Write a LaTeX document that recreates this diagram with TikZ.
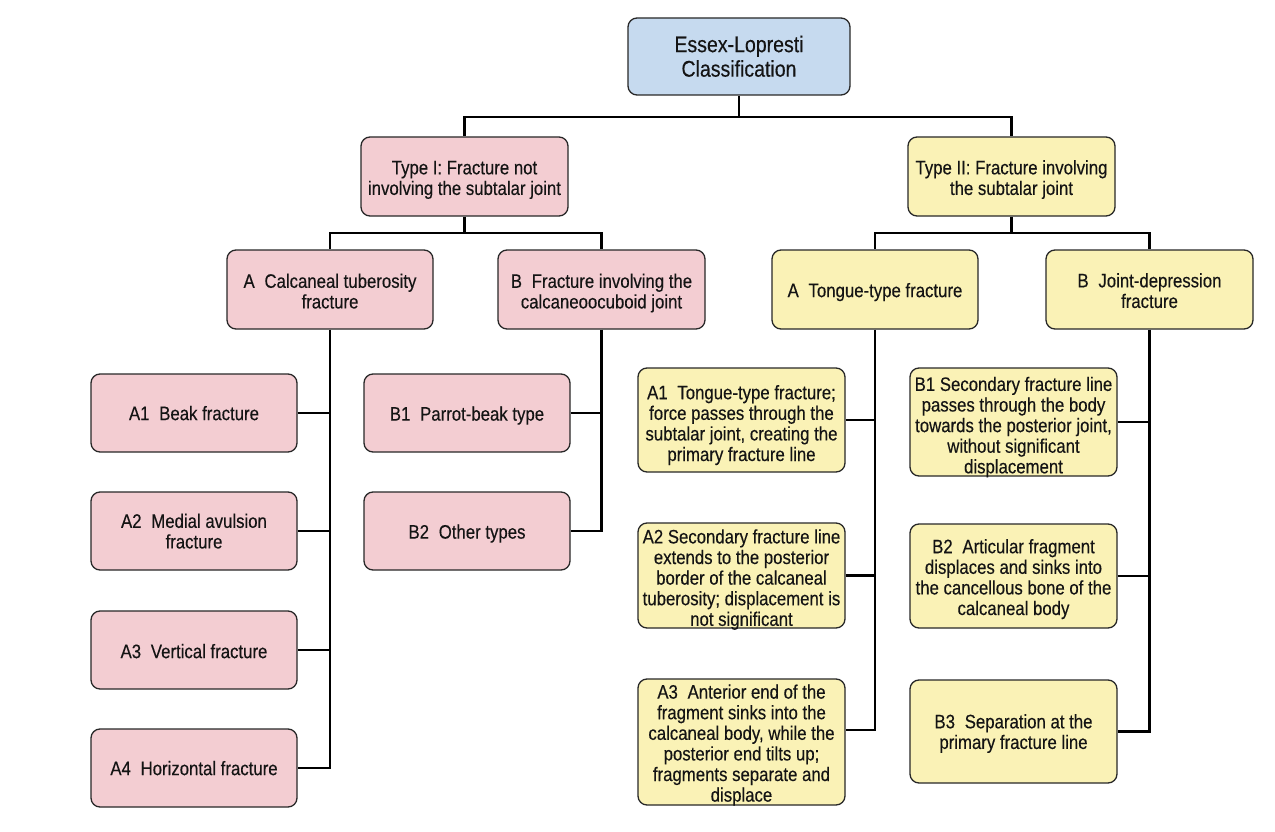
\documentclass[tikz,border=0pt]{standalone}
\usepackage{fontspec}
\setmainfont{Liberation Sans}[FakeStretch=0.86,FakeBold=0.3]
\definecolor{pinkfill}{RGB}{243,205,210}
\definecolor{yellowfill}{RGB}{250,242,182}
\definecolor{bluefill}{RGB}{198,218,239}
\definecolor{boxline}{RGB}{40,40,40}
\newcommand{\tl}[2]{\raisebox{-#1pt}[\height][\depth]{\begin{tabular}{@{}c@{}}#2\end{tabular}}}
\tikzset{
  box/.style={draw=boxline, line width=1.3pt, rounded corners=9pt,
    inner sep=0pt, font=\fontsize{19.5}{20.6}\selectfont, text=black!92},
  pinkbox/.style={box, fill=pinkfill},
  yellowbox/.style={box, fill=yellowfill},
  bluebox/.style={box, fill=bluefill, font=\fontsize{22.7}{24.5}\selectfont},
  conn/.style={line width=2.8pt, black},
}
\begin{document}
\begin{tikzpicture}[x=1pt,y=-1pt]
\fill[white] (0,0) rectangle (1275,832);
\useasboundingbox (0,0) rectangle (1275,832);

\node[bluebox, minimum width=222pt, minimum height=77pt] (root) at (739,56.5) {\tl{3}{Essex-Lopresti\\Classification}};

\node[pinkbox, minimum width=207pt, minimum height=79pt] (t1) at (464.5,176.5) {\tl{4}{Type I: Fracture not\\involving the subtalar joint}};
\node[yellowbox, minimum width=207pt, minimum height=79pt] (t2) at (1011.5,176.5) {\tl{4}{Type II: Fracture involving\\the subtalar joint}};

\node[pinkbox, minimum width=206pt, minimum height=79pt] (ta) at (330,289.5) {\tl{4.5}{A\enspace Calcaneal tuberosity\\fracture}};
\node[pinkbox, minimum width=207pt, minimum height=79pt] (tb) at (601.5,289.5) {\tl{4.5}{B\enspace Fracture involving the\\calcaneoocuboid joint}};
\node[yellowbox, minimum width=206pt, minimum height=79pt] (ma) at (875,289.5) {\tl{3.5}{A\enspace Tongue-type fracture}};
\node[yellowbox, minimum width=207pt, minimum height=79pt] (mb) at (1149.5,289.5) {\tl{4}{B\enspace Joint-depression\\fracture}};

\node[pinkbox, minimum width=206pt, minimum height=78pt] (a1) at (194,413) {\tl{3}{A1\enspace Beak fracture}};
\node[pinkbox, minimum width=206pt, minimum height=78pt] (a2) at (194,531) {\tl{3}{A2\enspace Medial avulsion\\fracture}};
\node[pinkbox, minimum width=206pt, minimum height=78pt] (a3) at (194,650) {\tl{4}{A3\enspace Vertical fracture}};
\node[pinkbox, minimum width=206pt, minimum height=78pt] (a4) at (194,768) {\tl{3}{A4\enspace Horizontal fracture}};

\node[pinkbox, minimum width=206pt, minimum height=78pt] (b1) at (467,413) {\tl{3.5}{B1\enspace Parrot-beak type}};
\node[pinkbox, minimum width=206pt, minimum height=78pt] (b2) at (467,531) {\tl{3.5}{B2\enspace Other types}};

\node[yellowbox, minimum width=207pt, minimum height=104pt] (tA1) at (741.5,420) {\tl{6}{A1\enspace Tongue-type fracture;\\force passes through the\\subtalar joint, creating the\\primary fracture line}};
\node[yellowbox, minimum width=207pt, minimum height=105pt] (tA2) at (741.5,575.5) {\tl{5}{A2 Secondary fracture line\\extends to the posterior\\border of the calcaneal\\tuberosity; displacement is\\not significant}};
\node[yellowbox, minimum width=207pt, minimum height=126pt] (tA3) at (741.5,742) {\tl{4}{A3\enspace Anterior end of the\\fragment sinks into the\\calcaneal body, while the\\posterior end tilts up;\\fragments separate and\\displace}};

\node[yellowbox, minimum width=207pt, minimum height=108pt] (jB1) at (1013.5,422) {\tl{6}{B1 Secondary fracture line\\passes through the body\\towards the posterior joint,\\without significant\\displacement}};
\node[yellowbox, minimum width=207pt, minimum height=104pt] (jB2) at (1013.5,576) {\tl{4}{B2\enspace Articular fragment\\displaces and sinks into\\the cancellous bone of the\\calcaneal body}};
\node[yellowbox, minimum width=207pt, minimum height=103pt] (jB3) at (1013.5,731.5) {\tl{3}{B3\enspace Separation at the\\primary fracture line}};

% connectors
\coordinate (j0) at (739,117);
\draw[conn] (root.south) -- (j0);
\draw[conn] (j0) -| (t1.north);
\draw[conn] (j0) -| (t2.north);

\coordinate (j1) at (464.5,233);
\draw[conn] (t1.south) -- (j1);
\draw[conn] (j1) -| (ta.north);
\draw[conn] (j1) -| (tb.north);

\coordinate (j2) at (1011.5,233);
\draw[conn] (t2.south) -- (j2);
\draw[conn] (j2) -| (ma.north);
\draw[conn] (j2) -| (mb.north);

\draw[conn] (ta.south) -- (ta.south |- a4.east) -- (a4.east);
\draw[conn] (a1.east) -- (a1.east -| ta.south);
\draw[conn] (a2.east) -- (a2.east -| ta.south);
\draw[conn] (a3.east) -- (a3.east -| ta.south);

\draw[conn] (tb.south) -- (tb.south |- b2.east) -- (b2.east);
\draw[conn] (b1.east) -- (b1.east -| tb.south);

\coordinate (tA3c) at ([yshift=12pt]tA3.east);
\draw[conn] (ma.south) -- (ma.south |- tA3c) -- (tA3c);
\draw[conn] (tA1.east) -- (tA1.east -| ma.south);
\draw[conn] (tA2.east) -- (tA2.east -| ma.south);

\draw[conn] (mb.south) -- (mb.south |- jB3.east) -- (jB3.east);
\draw[conn] (jB1.east) -- (jB1.east -| mb.south);
\draw[conn] (jB2.east) -- (jB2.east -| mb.south);
\end{tikzpicture}
\end{document}
